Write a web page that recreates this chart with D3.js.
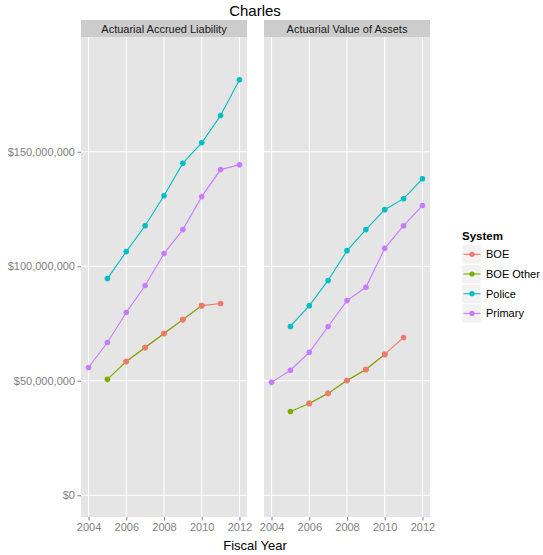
<!DOCTYPE html>
<html><head><meta charset="utf-8">
<script src="https://cdn.jsdelivr.net/npm/d3@7"></script>
<style>body{margin:0;background:#fff}svg{display:block;font-family:"Liberation Sans",Arial,sans-serif}</style>
</head><body>
<script>
const years = [2004,2005,2006,2007,2008,2009,2010,2011,2012];
const panels = ["Actuarial Accrued Liability","Actuarial Value of Assets"];
const systems = ["BOE","BOE Other","Police","Primary"];
const colors = ["#F8766D","#7CAE00","#00BFC4","#C77CFF"];
const xTicks = [2004,2006,2008,2010,2012];
const yTicks = [0,50e6,100e6,150e6];
// values in dollars, null = missing (indexed by years)
const aalBOE      = [null,null,58.4e6,64.5e6,70.6e6,76.7e6,82.8e6,83.7e6,null];
const aalBOEOther = [null,50.6e6,58.4e6,64.5e6,70.6e6,76.7e6,82.8e6,null,null];
const aalPolice   = [null,94.6e6,106.4e6,117.7e6,130.8e6,145.0e6,153.9e6,165.8e6,181.4e6];
const aalPrimary  = [55.8e6,66.7e6,79.8e6,91.6e6,105.5e6,116.0e6,130.4e6,142.2e6,144.3e6];
const avaBOE      = [null,null,40.1e6,44.5e6,50.1e6,54.9e6,61.5e6,68.9e6,null];
const avaBOEOther = [null,36.6e6,40.1e6,44.5e6,50.1e6,54.9e6,61.5e6,null,null];
const avaPolice   = [null,73.7e6,82.8e6,93.8e6,106.8e6,116.0e6,124.7e6,129.5e6,138.2e6];
const avaPrimary  = [49.3e6,54.6e6,62.4e6,73.7e6,85.0e6,90.8e6,107.8e6,117.7e6,126.5e6];
const panelData = [
  [aalBOE,aalBOEOther,aalPolice,aalPrimary],
  [avaBOE,avaBOEOther,avaPolice,avaPrimary]
];

const W=543,H=555;
const svg=d3.select("body").append("svg").attr("width",W).attr("height",H);
const panelX=[[81,247],[264,430]];
const pTop=37, pBottom=517, stripTop=20;
const yScale=d3.scaleLinear().domain([-9.5e6,200.1e6]).range([pBottom,pTop]);
const grey="#7f7f7f";
const fmt=d=>"$"+d3.format(",")(d);

svg.append("text").attr("x",255).attr("y",16).attr("text-anchor","middle")
  .attr("font-size",15).attr("fill","#000").text("Charles");

panelData.forEach((series,pi)=>{
  const [x0,x1]=panelX[pi];
  const xScale=d3.scaleLinear().domain([2003.6,2012.4]).range([x0,x1]);
  const g=svg.append("g");
  g.append("rect").attr("x",x0).attr("y",stripTop).attr("width",x1-x0).attr("height",pTop-stripTop).attr("fill","#cccccc");
  g.append("text").attr("x",(x0+x1)/2).attr("y",stripTop+12.5).attr("text-anchor","middle")
    .attr("font-size",11).attr("fill","#1a1a1a").text(panels[pi]);
  g.append("rect").attr("x",x0).attr("y",pTop).attr("width",x1-x0).attr("height",pBottom-pTop).attr("fill","#e5e5e5");
  g.selectAll(".vg").data(xTicks).join("line").attr("x1",d=>xScale(d)).attr("x2",d=>xScale(d))
    .attr("y1",pTop).attr("y2",pBottom).attr("stroke","#fff").attr("stroke-width",1.1);
  g.selectAll(".hg").data(yTicks).join("line").attr("y1",d=>yScale(d)).attr("y2",d=>yScale(d))
    .attr("x1",x0).attr("x2",x1).attr("stroke","#fff").attr("stroke-width",1.1);
  const xa=g.append("g").attr("transform",`translate(0,${pBottom})`)
    .call(d3.axisBottom(xScale).tickValues(xTicks).tickFormat(d3.format("d")).tickSize(3.5).tickPadding(2.5));
  xa.select(".domain").remove();
  xa.selectAll("line").attr("stroke",grey);
  xa.selectAll("text").attr("fill",grey).attr("font-size",11).attr("font-family","Liberation Sans,Arial,sans-serif");
  if(pi===0){
    const ya=g.append("g").attr("transform",`translate(${x0},0)`)
      .call(d3.axisLeft(yScale).tickValues(yTicks).tickFormat(fmt).tickSize(3.5).tickPadding(2.5));
    ya.select(".domain").remove();
    ya.selectAll("line").attr("stroke",grey);
    ya.selectAll("text").attr("fill",grey).attr("font-size",11).attr("font-family","Liberation Sans,Arial,sans-serif");
  }
  const line=d3.line().defined(d=>d.v!=null).x(d=>xScale(d.yr)).y(d=>yScale(d.v));
  series.forEach((vals,si)=>{
    const pts=years.map((yr,i)=>({yr,v:vals[i]}));
    g.append("path").datum(pts).attr("d",line).attr("fill","none").attr("stroke",colors[si]).attr("stroke-width",1.1);
  });
  [1,0,2,3].forEach(si=>{
    const pts=years.map((yr,i)=>({yr,v:series[si][i]})).filter(d=>d.v!=null);
    g.selectAll(null).data(pts).join("circle").attr("cx",d=>xScale(d.yr)).attr("cy",d=>yScale(d.v))
      .attr("r",2.8).attr("fill",colors[si]);
  });
});

svg.append("text").attr("x",255).attr("y",550).attr("text-anchor","middle").attr("font-size",13).attr("fill","#000").text("Fiscal Year");

const lg=svg.append("g");
lg.append("text").attr("x",462).attr("y",240).attr("font-size",11.5).attr("font-weight","bold").text("System");
systems.forEach((s,i)=>{
  const cy=254.3+i*19.7;
  lg.append("rect").attr("x",462).attr("y",cy-9.5).attr("width",19).attr("height",19).attr("fill","#f2f2f2").attr("stroke","#fff").attr("stroke-width",0.5);
  lg.append("line").attr("x1",463.5).attr("x2",480.5).attr("y1",cy).attr("y2",cy).attr("stroke",colors[i]).attr("stroke-width",1.1);
  lg.append("circle").attr("cx",472).attr("cy",cy).attr("r",2.6).attr("fill",colors[i]);
  lg.append("text").attr("x",486).attr("y",cy+4).attr("font-size",11).attr("fill","#000").text(s);
});
</script>
</body></html>
